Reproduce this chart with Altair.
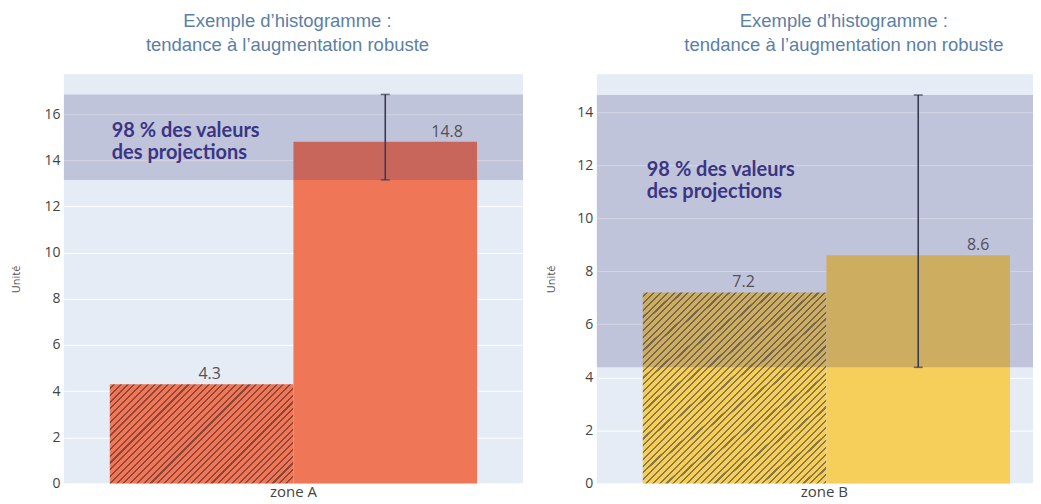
import math
import altair as alt
import pandas as pd

# ---------------- data ----------------
series = ["historique", "projection"]
zone_left = "zone A"
zone_right = "zone B"
values_left = [4.3, 14.8]
values_right = [7.2, 8.6]
range_left = [13.15, 16.85]     # 98 % des valeurs des projections
range_right = [4.38, 14.64]
ymax_left = 17.72
ymax_right = 15.42
ticks_left = [0, 2, 4, 6, 8, 10, 12, 14, 16]
ticks_right = [0, 2, 4, 6, 8, 10, 12, 14]
titles_left = ["Exemple d\u2019histogramme :", "tendance \u00e0 l\u2019augmentation robuste"]
titles_right = ["Exemple d\u2019histogramme :", "tendance \u00e0 l\u2019augmentation non robuste"]
band_text_left = ["98 % des valeurs", "des projections"]
band_text_right = ["98\u202f% des valeurs", "des projections"]
band_text_y_left = 15.0
band_text_y_right = 11.59

H = 410
W_LEFT = 460
W_RIGHT = 437
BAR_FRACTION = 0.8


def hatch(base, line, w, h, period=4.8, lw=1.5):
    L = w + h
    dt = period * math.sqrt(2) / L
    dl = lw * math.sqrt(2) / L
    eps = 1e-4
    stops = [(0.0, base)]
    t = dt * 0.5
    while t + dl < 1:
        stops += [(t, base), (t + eps, line), (t + dl, line), (t + dl + eps, base)]
        t += dt
    stops.append((1.0, base))
    r = h / w
    s = (1 + r) / (1 + r * r)
    return alt.LinearGradient(
        gradient="linear",
        stops=[alt.GradientStop(offset=round(o, 6), color=col) for o, col in stops],
        x1=0, y1=0, x2=s, y2=s * r,
    )


def panel(zone, values, rng, ymax, ticks, W, bar_px, po, align, base, line,
          titles, ann_text, ann_y, ann_x, dxs, title_dx, title_pad):
    df = pd.DataFrame({"zone": [zone] * 2, "serie": series, "value": values})
    x = alt.X("zone:N", scale=alt.Scale(paddingInner=0, paddingOuter=po, align=align),
              axis=alt.Axis(title=None, labelAngle=0, ticks=False, domain=False,
                            labelFontSize=15, labelColor="#444444", labelFont="Open Sans",
                            labelPadding=1))
    xo = alt.XOffset("serie:N", scale=alt.Scale(domain=series, paddingInner=0, paddingOuter=0))
    yscale = alt.Scale(domain=[0, ymax], nice=False)
    y_axis = alt.Axis(values=ticks, grid=True, gridColor="white", gridWidth=1, ticks=False,
                      domain=False, labelFontSize=14, labelColor="#444444", labelFont="Open Sans",
                      labelPadding=4, title="Unit\u00e9", titleFontSize=11, titleFont="Open Sans",
                      titleFontWeight="normal", titleColor="#555555", titlePadding=title_pad)

    def Y(field, **kw):
        return alt.Y(field, scale=yscale, axis=y_axis, title="Unit\u00e9", **kw)

    w_bar = bar_px / 2
    h_hist = values[0] / ymax * H

    base_chart = alt.Chart(df)
    hist = base_chart.transform_filter(alt.datum.serie == series[0]).mark_bar(
        fill=hatch(base, line, w_bar, h_hist), strokeWidth=0
    ).encode(x=x, xOffset=xo, y=Y("value:Q"))
    proj = base_chart.transform_filter(alt.datum.serie == series[1]).mark_bar(
        fill=base, strokeWidth=0
    ).encode(x=x, xOffset=xo, y=Y("value:Q"))

    rdf = pd.DataFrame({"zone": [zone], "serie": [series[1]], "lo": [rng[0]], "hi": [rng[1]]})
    band = alt.Chart(rdf).mark_rect(fill="#2e2775", opacity=0.2).encode(
        x=alt.value(0), x2=alt.value(W),
        y=Y("lo:Q"), y2="hi:Q")
    err = alt.Chart(rdf).mark_rule(color="#3a3a52", strokeWidth=1.6).encode(
        x=x, xOffset=xo, y=Y("lo:Q"), y2="hi:Q")
    caps = alt.Chart(rdf).transform_fold(["lo", "hi"], as_=["k", "v"]).mark_tick(
        color="#3a3a52", thickness=1.6, size=9).encode(
        x=x, xOffset=xo, y=Y("v:Q"))

    labels = []
    for s, dx in zip(series, dxs):
        labels.append(base_chart.transform_filter(alt.datum.serie == s).mark_text(
            dy=-5, dx=dx, baseline="alphabetic", fontSize=16, font="Open Sans",
            color="#50505a").encode(
            x=x, xOffset=xo, y=Y("value:Q"),
            text=alt.Text("value:Q", format=".1f")))

    ann = alt.Chart(pd.DataFrame({"t": [0]})).mark_text(
        text=ann_text, align="left", baseline="alphabetic", fontSize=20, fontWeight="bold",
        font="Lato", color="#3b3584", lineHeight=22).encode(
        x=alt.value(ann_x), y=alt.Y(datum=ann_y, type="quantitative", scale=yscale,
                                    axis=y_axis, title="Unit\u00e9"))

    return alt.layer(hist, proj, band, err, caps, *labels, ann).properties(
        width=W, height=H,
        title=alt.TitleParams(text=titles, fontSize=18.5, font="Liberation Sans",
                              fontWeight="normal", color="#5b80a8", lineHeight=24,
                              anchor="middle", frame="group", dx=title_dx, offset=20),
    )


left = panel(zone_left, values_left, range_left, ymax_left, ticks_left, W_LEFT,
             W_LEFT * BAR_FRACTION, (1 / BAR_FRACTION - 1) / 2, 0.5,
             "#ef7657", "#8e4636", titles_left, band_text_left, band_text_y_left, 48,
             [8, 62], -6, 22)
bar_px_right = 364
left_over = W_RIGHT - bar_px_right
right = panel(zone_right, values_right, range_right, ymax_right, ticks_right, W_RIGHT,
              bar_px_right, (W_RIGHT / bar_px_right - 1) / 2, 46 / left_over,
              "#f6cf5b", "#8a7746", titles_right, band_text_right, band_text_y_right, 50,
              [9, 60], 29, 20)

chart = alt.hconcat(left, right, spacing=22).properties(
    padding={"left": 2, "top": 3, "right": 0, "bottom": 0},
    background="white",
).configure_view(fill="#e5ecf6", stroke=None)

chart.save("out.html", embed_options={"renderer": "svg", "actions": False})
